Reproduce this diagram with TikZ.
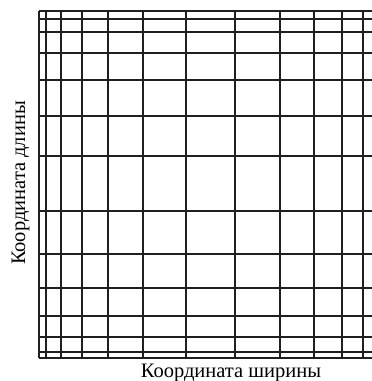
\documentclass[tikz,border=0pt]{standalone}
\usepackage{fontspec}
\setmainfont{Liberation Serif}
\begin{document}
\begin{tikzpicture}[x=1pt,y=-1pt,
  gridline/.style={line width=1.8pt,draw=black!88},
  axlabel/.style={font=\fontsize{20.5}{20.5}\selectfont,inner sep=0pt}]
\useasboundingbox (0,0) rectangle (372,381);
\foreach \yy in {11,18.7,31.7,52.7,80.3,115.7,156,211,254,288.3,316,337,352,358.3}
  \draw[gridline] (39,\yy) -- (372,\yy);
\foreach \xx in {39,46.3,60.7,81.7,108.3,143,185.7,235.3,280,314,341.7,362.7}
  \draw[gridline] (\xx,11) -- (\xx,358.3);
\node[axlabel,anchor=base] (xl) at (231,377) {Координата ширины};
\node[axlabel,anchor=base,rotate=90] (yl) at (25,183) {Координата длины};
\end{tikzpicture}
\end{document}
